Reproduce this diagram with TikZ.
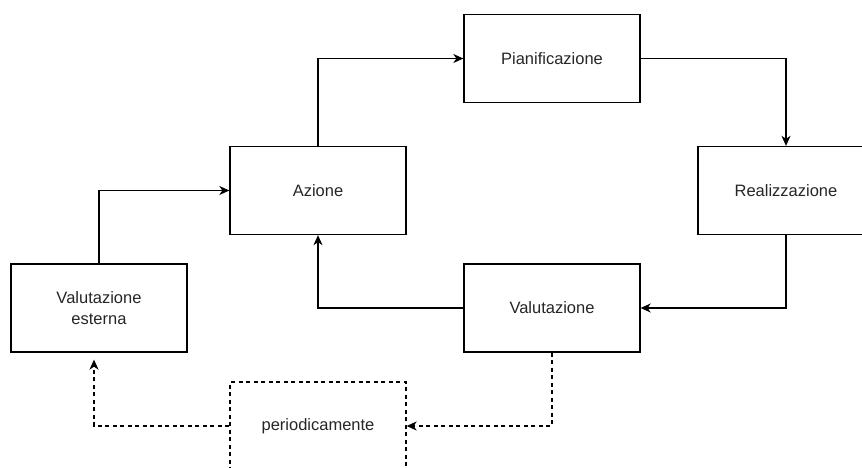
\documentclass[tikz,border=0pt]{standalone}
\usepackage{fontspec}
\setmainfont{Liberation Sans}
\usepackage{tikz}
\usetikzlibrary{arrows,arrows.meta,calc}

\begin{document}
\begin{tikzpicture}[x=1pt,y=-1pt,
    box/.style={draw, line width=1.3pt, minimum width=176pt, minimum height=88pt,
        inner sep=0pt, align=center, text=black!85,
        font=\fontsize{16.5}{21.5}\selectfont},
    flow/.style={line width=1.3pt, -{Stealth[length=10pt,width=9pt,inset=3pt]}},
    dashbox/.style={box, dash pattern=on 4pt off 3.5pt},
    dashflow/.style={flow, dash pattern=on 4pt off 3.5pt}]
    \useasboundingbox (0,0) rectangle (862,468);
    \clip (0,0) rectangle (862,468);

    % Cycle boxes
    \node[box] (pian)  at (552,58.5)  {Pianificazione};
    \node[box] (real)  at (786,190.5) {Realizzazione};
    \node[box] (valut) at (552,308)   {Valutazione};
    \node[box] (azione) at (318,190.5) {Azione};

    % External boxes
    \node[box] (vest) at (99,308) {Valutazione\\esterna};
    \node[dashbox] (period) at (318,426) {periodicamente};

    % Cycle arrows
    \draw[flow] (azione.north) |- (pian.west);
    \draw[flow] (pian.east) -| (real.north);
    \draw[flow] (real.south) |- (valut.east);
    \draw[flow] (valut.west) -| (azione.south);
    \draw[flow] (vest.north) |- (azione.west);

    % Periodic feedback
    \draw[dashflow] (valut.south) |- (period.east);
    \draw[dashflow, shorten >=7pt] (period.west) -| ($(vest.south)+(-5,0)$);
\end{tikzpicture}
\end{document}
